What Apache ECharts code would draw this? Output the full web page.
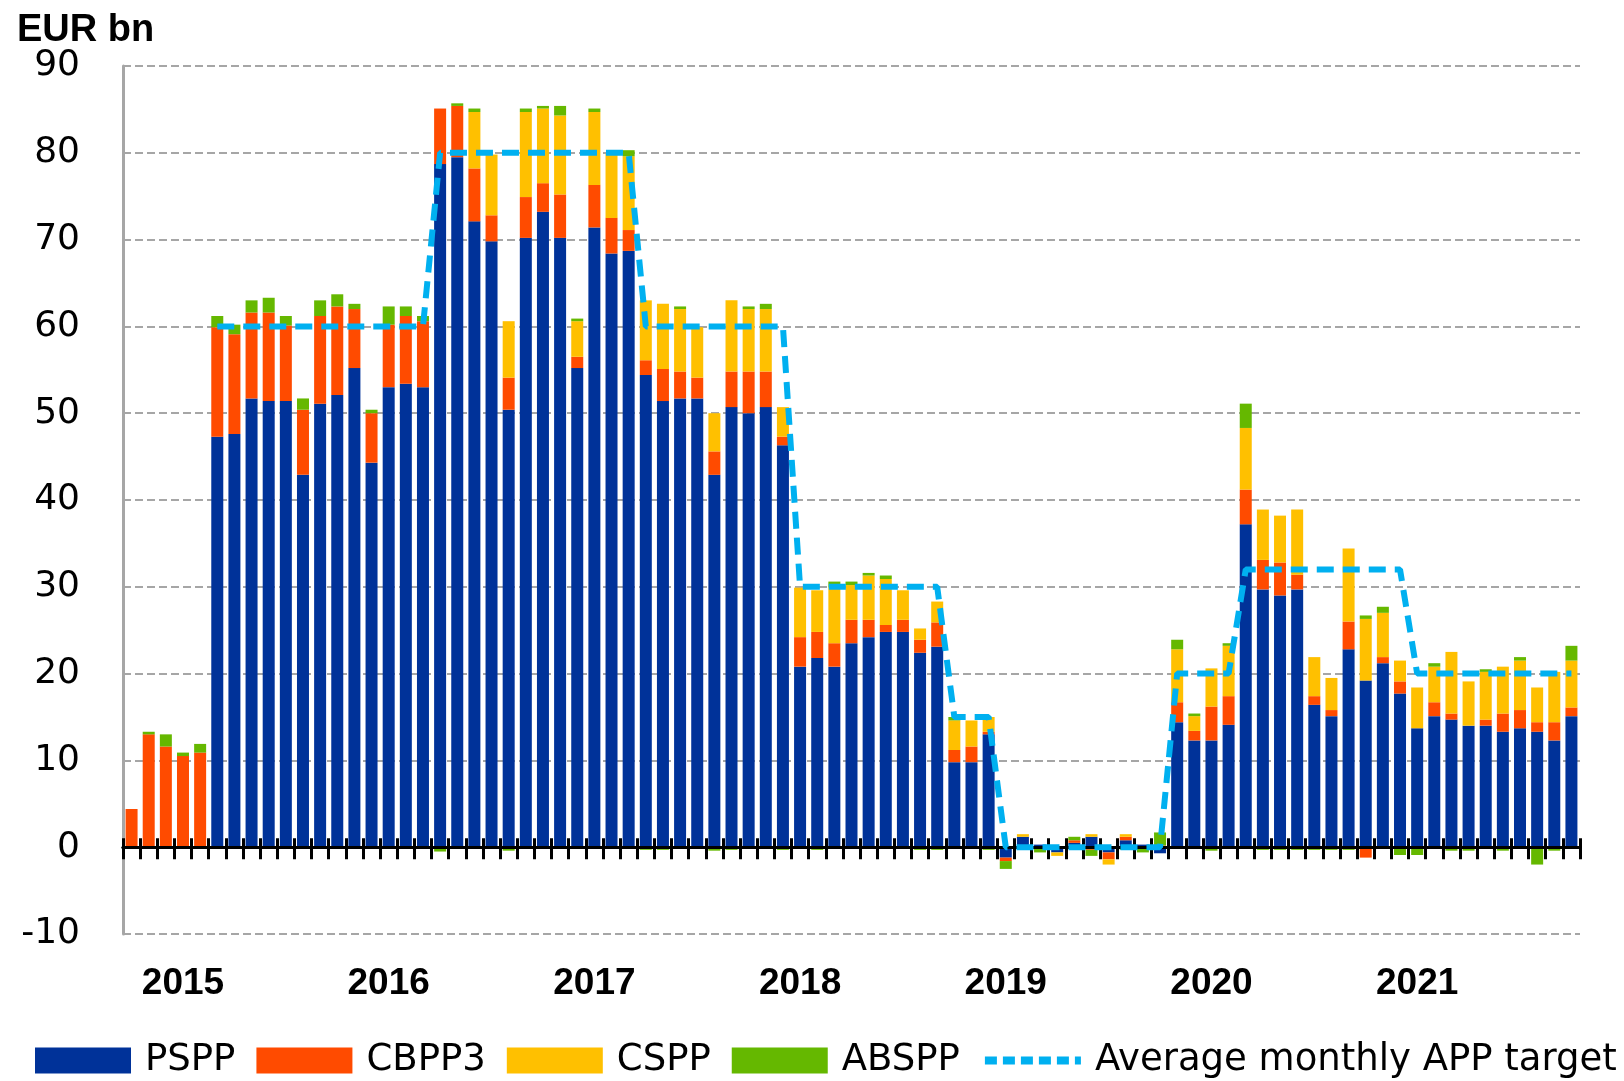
<!DOCTYPE html>
<html>
<head>
<meta charset="utf-8">
<title>APP monthly net purchases</title>
<script src="https://cdn.jsdelivr.net/npm/echarts@6/dist/echarts.min.js"></script>
<style>
  html, body { margin: 0; padding: 0; background: #fff; }
  #chart { width: 1624px; height: 1081px; }
</style>
</head>
<body>
<div id="chart"></div>
<script>
// monthly net purchases, EUR bn, Oct 2014 .. Oct 2021
const startYear = 2014
const startMonth = 10

const pspp = [
  0, 0, 0, 0, 0, 47.3, 47.6, 51.7, 51.4, 51.4, 42.9, 51.1, 52.1, 55.2, 44.3,
  53.0, 53.4, 53.0, 78.7, 79.5, 72.1, 69.8, 50.4, 70.2, 73.2, 70.2, 55.2,
  71.4, 68.4, 68.7, 54.4, 51.4, 51.7, 51.7, 42.9, 50.7, 50.0, 50.7, 46.3,
  20.8, 21.8, 20.8, 23.5, 24.2, 24.8, 24.8, 22.4, 23.1, 9.8, 9.8, 13.0,
  -1.2, 1.2, 0.3, -0.6, 0.5, 1.2, -0.6, 0.8, 0.3, -0.7, 14.4, 12.3,
  12.3, 14.1, 37.2, 29.7, 29.0, 29.7, 16.4, 15.1, 22.8, 19.2, 21.2, 17.7,
  13.7, 15.1, 14.7, 14.0, 14.0, 13.3, 13.7, 13.3, 12.3, 15.1
]
const cbpp3 = [
  4.4, 13.0, 11.6, 10.5, 10.9, 12.6, 11.5, 9.9, 10.2, 8.7, 7.5, 10.1, 10.2, 6.8, 5.7,
  7.2, 7.8, 7.6, 6.4, 5.9, 6.1, 3.0, 3.7, 4.7, 3.3, 5.0, 1.3,
  4.9, 4.1, 2.4, 1.7, 3.7, 3.1, 2.4, 2.7, 4.1, 4.8, 4.1, 1.0,
  3.4, 3.0, 2.7, 2.7, 2.0, 0.8, 1.4, 1.5, 2.8, 1.4, 1.8, 0.3,
  -0.4, 0, 0, 0, 0.3, -0.3, -0.8, 0.4, 0, 0.2, 2.3, 1.1,
  3.9, 3.3, 4.0, 3.4, 3.8, 1.7, 1.0, 0.7, 3.2, -1.2, 0.7, 1.4,
  0, 1.6, 0.7, 0, 0.7, 2.1, 2.1, 1.1, 2.1, 1.0
]
const cspp = [
  0, 0, 0, 0, 0, 0, 0, 0, 0, 0, 0, 0, 0, 0, 0,
  0, 0, 0, 0, 0, 6.5, 7.0, 6.5, 9.8, 8.6, 9.1, 4.1,
  8.4, 7.4, 8.5, 6.9, 7.5, 7.2, 5.8, 4.4, 8.2, 7.2, 7.2, 3.4,
  5.7, 4.8, 6.4, 4.0, 5.1, 5.3, 3.4, 1.3, 2.4, 3.4, 3.0, 1.7,
  0, 0.3, 0, -0.4, 0, 0.3, -0.6, 0.3, 0, 0, 6.1, 1.7,
  4.4, 5.8, 7.1, 5.8, 5.4, 7.5, 4.5, 3.7, 8.4, 7.1, 5.1, 2.4,
  4.7, 4.1, 7.1, 5.1, 5.5, 5.4, 5.7, 4.0, 5.8, 5.4
]
const abspp = [
  0, 0.3, 1.4, 0.4, 1.0, 1.3, 1.1, 1.4, 1.7, 1.1, 1.3, 1.8, 1.4, 0.6, 0.4,
  2.1, 1.1, 0.6, -0.5, 0.3, 0.4, 0, -0.4, 0.4, 0.3, 1.1, 0.3,
  0.4, 0, 0.7, -0.3, -0.3, 0.3, 0, -0.4, -0.3, 0.3, 0.6, -0.3,
  0, -0.3, 0.7, 0.4, 0.3, 0.4, 0, -0.3, -0.3, 0.4, 0, -0.3,
  -0.9, 0, -0.6, 0, 0.4, -0.7, 0, -0.3, -0.6, 1.5, 1.1, 0.3,
  -0.4, 0.3, 2.8, -0.3, -0.3, -0.3, -0.3, -0.3, -0.3, 0.4, 0.7, -0.9,
  -0.9, 0.4, -0.4, -0.4, 0.3, -0.4, 0.4, -2.0, -0.4, 1.7
]
const target = [
  null, null, null, null, null, 60, 60, 60, 60, 60, 60, 60, 60, 60, 60,
  60, 60, 60, 80, 80, 80, 80, 80, 80, 80, 80, 80,
  80, 80, 80, 60, 60, 60, 60, 60, 60, 60, 60, 60,
  30, 30, 30, 30, 30, 30, 30, 30, 30, 15, 15, 15,
  0, 0, 0, 0, 0, 0, 0, 0, 0, 0, 20, 20,
  20, 20, 32, 32, 32, 32, 32, 32, 32, 32, 32, 32,
  20, 20, 20, 20, 20, 20, 20, 20, 20, 20
]

const seriesNames = ['PSPP', 'CBPP3', 'CSPP', 'ABSPP', 'Average monthly APP target']
const colors = ['#003299', '#FF4B00', '#FFC000', '#65B800', '#00B0F0']
const yMin = -10
const yMax = 90

// month categories, "YYYY-MM"
const months = []
for (let i = 0; i < pspp.length; i++) {
  const m = startMonth - 1 + i
  const y = startYear + Math.floor(m / 12)
  months.push(y + '-' + String(m % 12 + 1).padStart(2, '0'))
}

const chart = echarts.init(document.getElementById('chart'))

const gridRect = { left: 123, right: 44, top: 66, bottom: 147 }

// black zero line, ticks going down
const zeroAxis = {
  type: 'category',
  data: months,
  position: 'bottom',
  z: 5,
  axisLine: { show: true, onZero: true, lineStyle: { color: '#000', width: 3 } },
  axisTick: { show: true, interval: 0, length: 12, lineStyle: { color: '#000', width: 3 } },
  axisLabel: { show: false },
  splitLine: { show: false }
}
// same line in an overlay grid, ticks going up, so the ticks cross the axis
const zeroAxisInner = Object.assign({}, zeroAxis, {
  gridIndex: 1,
  axisTick: { show: true, interval: 0, inside: true, length: 9, lineStyle: { color: '#000', width: 3 } }
})

const barSeries = [pspp, cbpp3, cspp, abspp].map((data, i) => ({
  name: seriesNames[i],
  type: 'bar',
  stack: 'app',
  data: data,
  barCategoryGap: '30%',
  itemStyle: { color: colors[i] }
}))

const option = {
  animation: false,
  backgroundColor: '#fff',
  title: {
    text: 'EUR bn',
    left: 17,
    top: 12,
    padding: 0,
    textStyle: { fontFamily: 'Liberation Sans', fontWeight: 'bold', fontSize: 38, color: '#000' }
  },
  legend: {
    left: 35,
    top: 1042,
    padding: 0,
    itemWidth: 96,
    itemHeight: 26,
    itemGap: 21,
    textStyle: { fontFamily: 'DejaVu Sans', fontSize: 37, color: '#000', padding: [0, 0, 0, 9] },
    data: [
      { name: 'PSPP', icon: 'rect' },
      { name: 'CBPP3', icon: 'rect' },
      { name: 'CSPP', icon: 'rect' },
      { name: 'ABSPP', icon: 'rect' },
      {
        name: 'Average monthly APP target',
        itemStyle: { opacity: 0 },
        lineStyle: { color: colors[4], width: 8, type: [12, 6], cap: 'butt' }
      }
    ]
  },
  grid: [gridRect, Object.assign({}, gridRect)],
  xAxis: [
    {
      type: 'category',
      data: months,
      position: 'bottom',
      axisLine: { show: false, onZero: false },
      axisTick: { show: false },
      splitLine: { show: false },
      axisLabel: {
        interval: 0,
        margin: 31,
        fontFamily: 'Liberation Sans',
        fontWeight: 'bold',
        fontSize: 37,
        color: '#000',
        formatter: v => (v.slice(5) === '01' ? v.slice(0, 4) : '')
      }
    },
    zeroAxis,
    zeroAxisInner
  ],
  yAxis: [
    {
      type: 'value',
      min: yMin,
      max: yMax,
      interval: 10,
      axisLine: { show: true, lineStyle: { color: '#A6A6A6', width: 3 } },
      axisTick: { show: false },
      axisLabel: { margin: 43, fontFamily: 'DejaVu Sans', fontSize: 36, color: '#000' },
      splitLine: { show: true, lineStyle: { color: '#A6A6A6', width: 2, type: [8, 4] } }
    },
    {
      type: 'value',
      gridIndex: 1,
      min: yMin,
      max: yMax,
      interval: 10,
      show: false
    }
  ],
  series: barSeries.concat([{
    name: seriesNames[4],
    type: 'line',
    data: target,
    symbol: 'none',
    z: 10,
    itemStyle: { color: colors[4] },
    lineStyle: { color: colors[4], width: 6, type: [17, 9], cap: 'butt' }
  }])
}

chart.setOption(option)
</script>
</body>
</html>
